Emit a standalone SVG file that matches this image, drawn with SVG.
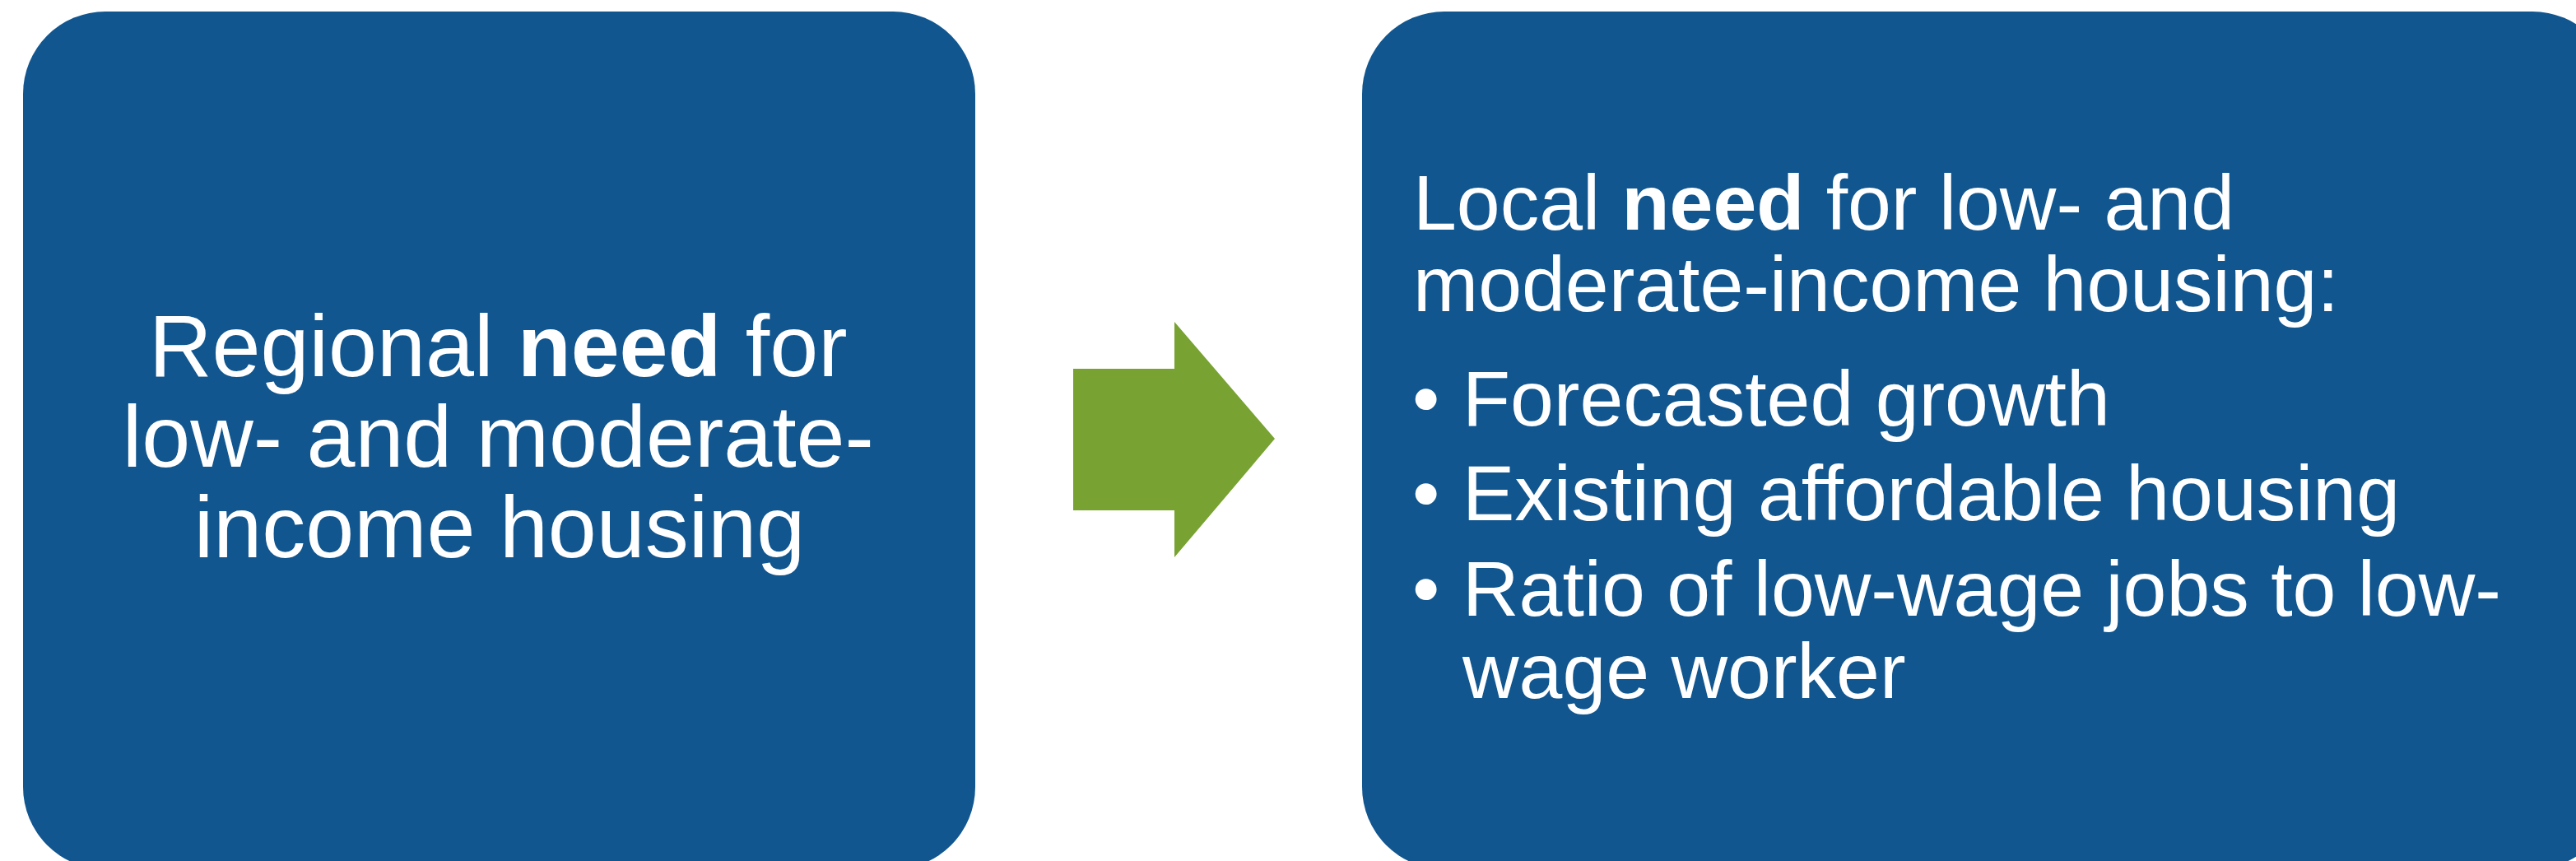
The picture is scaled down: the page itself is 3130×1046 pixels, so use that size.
<svg xmlns="http://www.w3.org/2000/svg" width="3130" height="1046" viewBox="0 0 3130 1046">
<style>
.box{fill:#11568f}
.t{font-family:"Liberation Sans",Arial,sans-serif;fill:#ffffff}
.l{font-size:106px}
.r{font-size:95px}
</style>
<rect width="3130" height="1046" fill="#ffffff"/>
<g id="node-regional">
<rect class="box" x="28" y="14" width="1157" height="1042" rx="100" ry="100"/>
<text class="t l" text-anchor="middle">
<tspan x="620" y="457">Regional <tspan font-weight="bold">need</tspan> for</tspan>
<tspan x="620" y="567">low- and moderate-</tspan>
<tspan x="607" y="677">income housing</tspan>
</text>
</g>
<g id="connectors">
<polygon fill="#78a232" points="1304,448 1427,448 1427,391 1549,533 1427,677 1427,620 1304,620"/>
</g>
<g id="node-local">
<rect class="box" x="1655" y="14" width="1522" height="1042" rx="100" ry="100"/>
<text class="t r">
<tspan x="1717" y="279">Local <tspan font-weight="bold">need</tspan> for low- and</tspan>
<tspan x="1717" y="378">moderate-income housing:</tspan>
</text>
<text class="t r">
<tspan x="1716" y="517">•</tspan>
<tspan x="1716" y="632">•</tspan>
<tspan x="1716" y="748">•</tspan>
</text>
<text class="t r">
<tspan x="1777" y="517">Forecasted growth</tspan>
<tspan x="1777" y="632">Existing affordable housing</tspan>
<tspan x="1777" y="748">Ratio of low-wage jobs to low-</tspan>
<tspan x="1777" y="848">wage worker</tspan>
</text>
</g>
</svg>
